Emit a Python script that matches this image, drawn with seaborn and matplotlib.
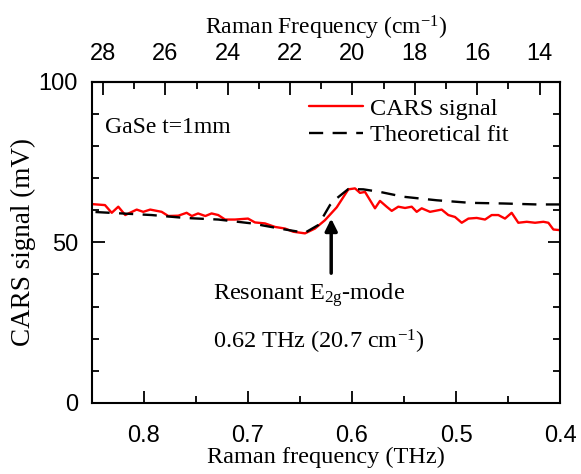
import matplotlib

matplotlib.use("Agg")
import matplotlib.pyplot as plt
import numpy as np
import pandas as pd
import seaborn as sns
from matplotlib.ticker import MultipleLocator

sns.set_style("ticks")
plt.rcParams["font.family"] = ["Liberation Serif", "DejaVu Serif"]
plt.rcParams["mathtext.fontset"] = "custom"
plt.rcParams["mathtext.rm"] = "Liberation Serif"
plt.rcParams["mathtext.it"] = "Liberation Serif:italic"
for key in ["text.color", "axes.labelcolor", "xtick.color", "ytick.color"]:
    plt.rcParams[key] = "black"

# measured CARS signal (THz, mV)
red_thz = [0.850, 0.8375, 0.831, 0.8247, 0.818, 0.807, 0.8007, 0.794, 0.783, 0.7766,
           0.767, 0.759, 0.754, 0.748, 0.741, 0.735, 0.7286, 0.722, 0.7125, 0.700,
           0.6933, 0.6837, 0.674, 0.6644, 0.6564, 0.6452, 0.6356, 0.626, 0.6147, 0.6035,
           0.5971, 0.5923, 0.5875, 0.5779, 0.5731, 0.5667, 0.5618, 0.5555, 0.549, 0.5426,
           0.5378, 0.533, 0.525, 0.5138, 0.5074, 0.501, 0.4945, 0.4881, 0.4801, 0.4721,
           0.4657, 0.4593, 0.4529, 0.4465, 0.4401, 0.432, 0.424, 0.416, 0.4112, 0.4064, 0.400]
red_mv = [61.9, 61.6, 59.2, 61.1, 58.5, 60.2, 59.5, 60.2, 59.5, 58.2,
          58.3, 59.2, 58.2, 59.0, 58.2, 59.0, 58.5, 57.1, 57.1, 57.4,
          56.2, 55.9, 54.8, 54.3, 53.3, 52.8, 54.3, 56.9, 60.9, 66.5,
          66.8, 65.4, 65.7, 60.6, 62.9, 61.1, 59.8, 61.1, 60.7, 61.1,
          59.5, 60.6, 59.5, 60.2, 58.5, 57.9, 56.1, 57.4, 57.6, 57.1,
          58.5, 58.5, 57.4, 59.2, 56.1, 56.4, 56.1, 56.4, 56.1, 54.0, 53.8]

# theoretical fit
fit_thz = [0.85, 0.7926, 0.7606, 0.7286, 0.6964, 0.6644, 0.6452, 0.6324, 0.6212, 0.6147,
           0.6035, 0.5891, 0.5731, 0.5507, 0.5186, 0.4865, 0.4545, 0.4224, 0.40]
fit_mv = [59.5, 58.5, 57.6, 57.1, 55.9, 54.0, 53.0, 55.4, 61.6, 63.7,
          66.6, 66.5, 65.7, 64.2, 63.1, 62.3, 62.1, 61.8, 61.8]

mode_thz = 0.62
arrow_from, arrow_to = 40.4, 57.4
top_ticks = [28, 26, 24, 22, 20, 18, 16, 14]
bottom_ticks = [0.8, 0.7, 0.6, 0.5, 0.4]
THZ_TO_CM = 33.356

df_red = pd.DataFrame({"thz": red_thz, "mv": red_mv})
df_fit = pd.DataFrame({"thz": fit_thz, "mv": fit_mv})

fig = plt.figure(figsize=(5.81, 4.74), dpi=100)
ax = fig.add_axes([0.1583, 0.1498, 0.8056, 0.6778])

sns.lineplot(data=df_red, x="thz", y="mv", color="#ff0000", lw=1.7, ax=ax,
             errorbar=None, label="CARS signal")
sns.lineplot(data=df_fit, x="thz", y="mv", color="black", lw=1.7, ax=ax,
             errorbar=None, linestyle=(0, (6, 4)), label="Theoretical fit")

ax.set_xlim(0.85, 0.4)
ax.set_ylim(0, 100)
ax.set_xticks(bottom_ticks)
ax.set_yticks([0, 50, 100])
ax.xaxis.set_minor_locator(MultipleLocator(0.05))
ax.yaxis.set_minor_locator(MultipleLocator(10))

tick_font = {"family": "Liberation Sans", "size": 17}
ax.set_xticklabels([f"{t:.1f}" for t in bottom_ticks], fontdict=tick_font)
ax.set_yticklabels(["0", "50", "100"], fontdict=tick_font)
ax.tick_params(which="major", direction="in", length=9, width=1.3,
               top=False, right=True)
ax.tick_params(which="minor", direction="in", length=5, width=1.3,
               top=False, right=True)
ax.tick_params(axis="x", which="major", pad=16)
ax.tick_params(axis="y", which="major", pad=10)
for sp in ax.spines.values():
    sp.set_linewidth(1.5)
    sp.set_color("black")

ax.set_xlabel("Raman frequency (THz)", fontsize=17.5, labelpad=0)
ax.set_ylabel("CARS signal (mV)", fontsize=19.5, labelpad=2)

top = ax.secondary_xaxis("top", functions=(lambda x: x * THZ_TO_CM,
                                            lambda c: c / THZ_TO_CM))
top.set_xticks(top_ticks)
top.set_xticklabels([str(t) for t in top_ticks], fontdict=tick_font)
top.xaxis.set_minor_locator(MultipleLocator(1))
top.tick_params(which="major", direction="in", length=9, width=1.3, pad=12)
top.tick_params(which="minor", direction="in", length=5, width=1.3)
top.spines["top"].set_linewidth(1.5)
top.set_xlabel("Raman Frequency (cm$^{-1}$)", fontsize=17, labelpad=6)

ax.legend(loc="upper left", bbox_to_anchor=(0.43, 1.0), frameon=False,
          fontsize=17.5, handlelength=2.2, handletextpad=0.3, labelspacing=0.2,
          borderaxespad=0.25)

ax.text(0.028, 0.858, "GaSe t=1mm", transform=ax.transAxes, fontsize=17,
        va="center", ha="left")
ax.text(0.2585, 0.336, "Resonant E$_{\\mathrm{2g}}$-mode", transform=ax.transAxes,
        fontsize=17.5, va="center", ha="left")
ax.text(0.2585, 0.19, "0.62 THz (20.7 cm$^{-1}$)", transform=ax.transAxes,
        fontsize=17.5, va="center", ha="left")
ax.annotate("", xy=(mode_thz, arrow_to), xytext=(mode_thz, arrow_from),
            arrowprops=dict(arrowstyle="-|>", color="black", lw=2.5,
                            mutation_scale=18, shrinkA=0, shrinkB=0))

fig.savefig("out.png", dpi=100)
